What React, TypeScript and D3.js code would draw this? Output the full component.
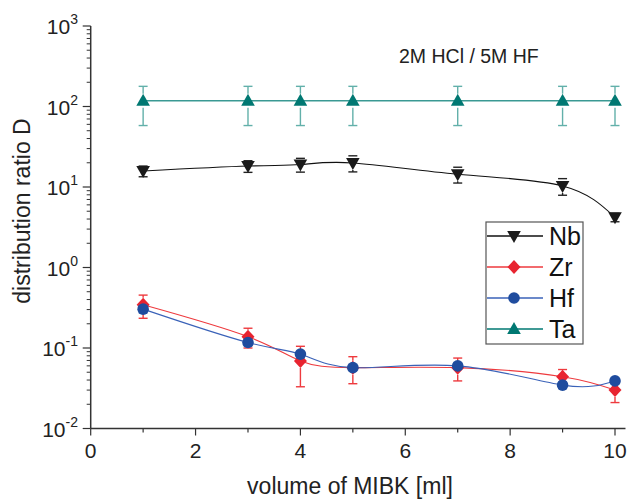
import React from 'react';
import * as d3 from 'd3';

// volume of MIBK [ml]
const volumes = [1, 3, 4, 5, 7, 9, 10];

const nbValues = [15.8, 18.2, 19, 19.9, 14.4, 10.3, 4.2];
const nbErrors = [2.4, 3, 3.7, 4.5, 3.2, 2.4, 0.5];
const zrValues = [0.344, 0.138, 0.069, 0.057, 0.057, 0.044, 0.03];
const zrErrors = [0.11, 0.038, 0.036, 0.021, 0.018, 0.01, 0.009];
const hfValues = [0.304, 0.117, 0.084, 0.057, 0.06, 0.0346, 0.039];
const hfErrors = [0.03, 0.01, 0.006, 0.004, 0.005, 0.003, 0.003];
const taValues = [118, 118, 118, 118, 118, 118, 118];
const taErrors = [60, 60, 60, 60, 60, 60, 60];

const xMajor = [0, 2, 4, 6, 8, 10];
const xMinor = [1, 3, 5, 7, 9];
const yExponents = [-2, -1, 0, 1, 2, 3];

const series = [
  { name: 'Nb', values: nbValues, errors: nbErrors, line: '#111', mark: '#1a1a1a', bar: '#222', shape: 'down' },
  { name: 'Zr', values: zrValues, errors: zrErrors, line: '#ee3a3e', mark: '#e82430', bar: '#ee3a3e', shape: 'diamond' },
  { name: 'Hf', values: hfValues, errors: hfErrors, line: '#3a62b8', mark: '#1f4c9e', bar: '#3a62b8', shape: 'circle' },
  { name: 'Ta', values: taValues, errors: taErrors, line: '#3a9993', mark: '#007872', bar: '#62b0aa', shape: 'up' },
];

const font = '"Liberation Sans", Arial, sans-serif';

function Marker({ shape, x, y, color }: { shape: string; x: number; y: number; color: string }) {
  if (shape === 'circle') return <circle cx={x} cy={y} r={5.8} fill={color} />;
  if (shape === 'diamond')
    return <path d={`M${x},${y - 7}L${x + 6.5},${y}L${x},${y + 7}L${x - 6.5},${y}Z`} fill={color} />;
  if (shape === 'up')
    return <path d={`M${x},${y - 7}L${x + 6.8},${y + 5}L${x - 6.8},${y + 5}Z`} fill={color} />;
  return <path d={`M${x},${y + 7}L${x + 6.8},${y - 5}L${x - 6.8},${y - 5}Z`} fill={color} />;
}

export default function App() {
  const x = d3.scaleLinear().domain([0, 10]).range([90.7, 615]);
  const y = d3.scaleLog().domain([1e-2, 1e3]).range([428.5, 26]);

  const minorY: number[] = [];
  yExponents.slice(0, -1).forEach((e) => {
    for (let k = 2; k <= 9; k++) minorY.push(k * Math.pow(10, e));
  });

  const line = d3
    .line<number>()
    .x((_, i) => x(volumes[i]))
    .y((d) => y(d))
    .curve(d3.curveNatural);

  const gap = 7;
  const cap = 4.5;

  return (
    <svg width={637} height={499} style={{ position: 'absolute', left: 0, top: 0, background: '#fff' }} fontFamily={font}>
      {/* axes */}
      <line x1={x(0)} x2={x(10.2)} y1={y(1e-2)} y2={y(1e-2)} stroke="#333" strokeWidth={1.5} />
      <line x1={x(0)} x2={x(0)} y1={y(1e-2)} y2={y(1e3)} stroke="#333" strokeWidth={1.5} />
      {xMajor.map((v) => (
        <g key={'xm' + v}>
          <line x1={x(v)} x2={x(v)} y1={y(1e-2)} y2={y(1e-2) + 7} stroke="#333" strokeWidth={1.2} />
          <text x={x(v)} y={458} fontSize={21} textAnchor="middle" fill="#222">
            {v}
          </text>
        </g>
      ))}
      {xMinor.map((v) => (
        <line key={'xn' + v} x1={x(v)} x2={x(v)} y1={y(1e-2)} y2={y(1e-2) + 4} stroke="#333" strokeWidth={1.2} />
      ))}
      {yExponents.map((e) => (
        <g key={'ym' + e}>
          <line x1={x(0) - 8} x2={x(0)} y1={y(Math.pow(10, e))} y2={y(Math.pow(10, e))} stroke="#333" strokeWidth={1.2} />
          <text x={78} y={y(Math.pow(10, e)) + 8} fontSize={21} textAnchor="end" fill="#222">
            10
            <tspan fontSize={14} dy={-10}>
              {e}
            </tspan>
          </text>
        </g>
      ))}
      {minorY.map((v, i) => (
        <line key={'yn' + i} x1={x(0) - 4} x2={x(0)} y1={y(v)} y2={y(v)} stroke="#333" strokeWidth={1} />
      ))}
      <text x={350} y={494} fontSize={23} textAnchor="middle" fill="#222">
        volume of MIBK [ml]
      </text>
      <text transform="translate(30,211) rotate(-90)" fontSize={23} textAnchor="middle" fill="#222">
        distribution ratio D
      </text>
      <text x={399} y={63} fontSize={19.5} fill="#222">
        2M HCl / 5M HF
      </text>

      {/* series */}
      {series.map((s) => (
        <g key={s.name}>
          <path d={line(s.values) || ''} fill="none" stroke={s.line} strokeWidth={s.name === 'Ta' ? 1.6 : 1.1} />
          {s.values.map((v, i) => {
            const cx = x(volumes[i]);
            const cy = y(v);
            const top = y(v + s.errors[i]);
            const bot = y(v - s.errors[i]);
            return (
              <g key={i} stroke={s.bar} strokeWidth={1.4}>
                {cy - top > gap && <line x1={cx} x2={cx} y1={top} y2={cy - gap} />}
                {bot - cy > gap && <line x1={cx} x2={cx} y1={cy + gap} y2={bot} />}
                <line x1={cx - cap} x2={cx + cap} y1={top} y2={top} />
                <line x1={cx - cap} x2={cx + cap} y1={bot} y2={bot} />
              </g>
            );
          })}
          {s.values.map((v, i) => (
            <Marker key={'m' + i} shape={s.shape} x={x(volumes[i])} y={y(v)} color={s.mark} />
          ))}
        </g>
      ))}

      {/* legend */}
      <rect x={486} y={222} width={97} height={122} fill="#fff" stroke="#555" strokeWidth={1.2} />
      {series.map((s, i) => {
        const ly = 236 + i * 31;
        return (
          <g key={'lg' + s.name}>
            <line x1={487} x2={543} y1={ly} y2={ly} stroke={s.name === 'Ta' ? '#007872' : s.line} strokeWidth={1.4} />
            <Marker shape={s.shape} x={514} y={ly} color={s.mark} />
            <text x={549} y={ly + 9} fontSize={25} fill="#111">
              {s.name}
            </text>
          </g>
        );
      })}
    </svg>
  );
}
